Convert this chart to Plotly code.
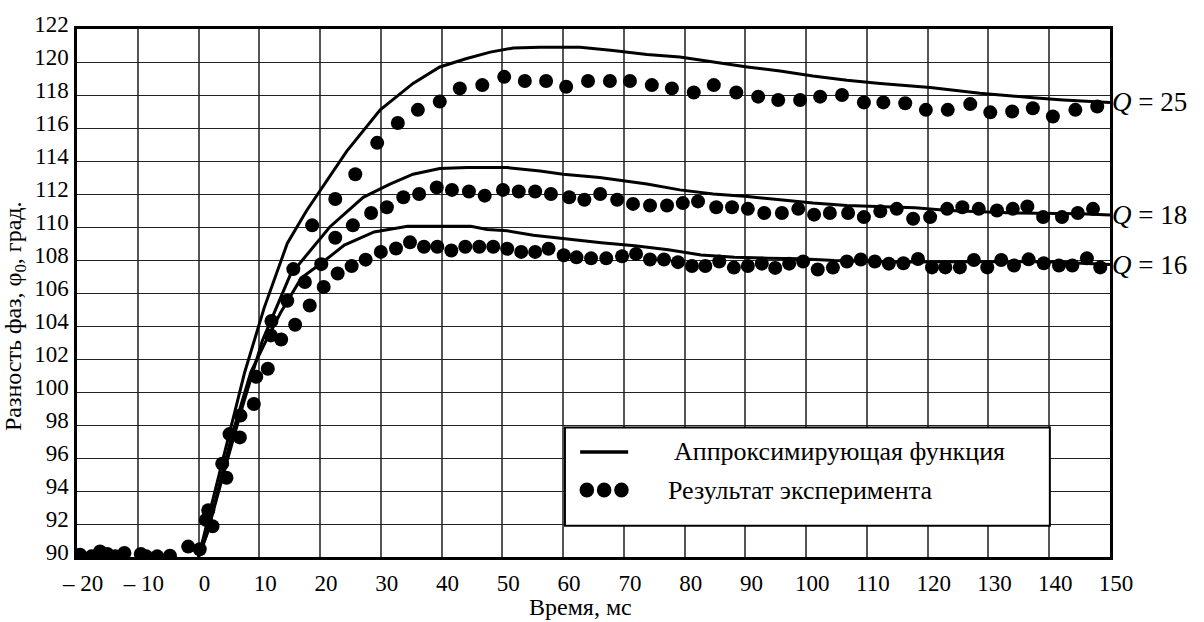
import plotly.graph_objects as go

# ---------------- data ----------------
x_tickvals = [-20, -10, 0, 10, 20, 30, 40, 50, 60, 70, 80, 90, 100, 110, 120, 130, 140, 150]
x_ticktext = ["– 20", "– 10", "0", "10", "20", "30", "40", "50", "60", "70", "80", "90",
              "100", "110", "120", "130", "140", "150"]
y_tickvals = list(range(90, 123, 2))

# approximating functions
fit25_x = [0, 2.5, 5.0, 7.6, 10.8, 14.6, 17.8, 24.4, 29.9, 35.3, 39.7, 44.0, 48.0, 51.8, 56.2, 62.8,
           68.2, 73.8, 79.2, 84.7, 90.3, 95.7, 101.1, 106.7, 112.2, 120.4, 128.6, 136.8, 142.3, 150]
fit25_y = [90.0, 93.7, 97.3, 101.2, 105.1, 109.0, 111.0, 114.6, 117.1, 118.7, 119.7, 120.2, 120.6, 120.85,
           120.9, 120.9, 120.7, 120.45, 120.3, 120.0, 119.7, 119.45, 119.15, 118.9, 118.7, 118.45, 118.1,
           117.85, 117.7, 117.55]

fit18_x = [0, 1.4, 4.3, 7.3, 10.5, 15.1, 21.6, 27.1, 31.5, 35.3, 39.7, 44.2, 50.8, 56.2, 60.0, 66.0,
           73.8, 79.2, 84.7, 90.3, 95.7, 101.1, 106.7, 112.2, 117.9, 123.4, 134.2, 145.1, 150]
fit18_y = [90.0, 91.4, 95.3, 99.2, 103.1, 107.1, 110.0, 111.8, 112.6, 113.2, 113.55, 113.6, 113.6, 113.4,
           113.2, 113.0, 112.6, 112.25, 112.0, 111.85, 111.65, 111.45, 111.3, 111.22, 111.17, 111.0,
           110.85, 110.8, 110.72]

fit16_x = [0, 1.4, 5.4, 8.6, 11.1, 13.5, 16.9, 20.2, 24.0, 28.9, 34.4, 44.8, 47.5, 50.8, 55.1, 60.6,
           66.3, 71.8, 77.3, 82.7, 88.2, 93.7, 99.1, 104.6, 110.1, 115.5, 128.8, 139.7, 150]
fit16_y = [90.0, 91.4, 97.25, 101.2, 103.1, 104.8, 106.9, 107.8, 108.9, 109.7, 110.04, 110.04, 109.85,
           109.77, 109.5, 109.26, 109.05, 108.86, 108.62, 108.31, 108.17, 108.11, 108.07, 107.97,
           107.91, 107.88, 107.9, 107.9, 107.72]

# experimental results
exp25_x = [-19.5, -15.0, -9.5, -4.7, 1.6, 5.1, 9.5, 12.0, 15.6, 18.7, 22.5, 25.8, 29.4, 32.8, 36.1,
           39.7, 43.0, 46.7, 50.3, 53.7, 57.2, 60.5, 64.1, 67.7, 71.0, 74.6, 77.9, 81.5, 84.8, 88.5,
           92.1, 95.4, 99.0, 102.3, 105.9, 109.5, 112.7, 116.3, 119.7, 123.3, 127.0, 130.3, 133.9,
           137.3, 140.6, 144.3, 147.9]
exp25_y = [90.14, 90.18, 90.18, 90.08, 92.84, 97.45, 100.92, 104.3, 107.45, 110.1, 111.7, 113.2, 115.1,
           116.3, 117.1, 117.6, 118.4, 118.6, 119.1, 118.85, 118.85, 118.5, 118.85, 118.85, 118.85,
           118.6, 118.4, 118.15, 118.6, 118.15, 117.9, 117.7, 117.7, 117.9, 118.0, 117.55, 117.55,
           117.5, 117.1, 117.1, 117.45, 116.95, 117.0, 117.2, 116.7, 117.1, 117.3]

exp18_x = [-17.6, -13.7, -8.6, -1.7, 1.2, 3.9, 6.9, 11.9, 14.6, 17.5, 20.2, 22.5, 25.4, 28.4, 31.0,
           33.7, 36.3, 39.2, 41.7, 44.5, 47.1, 50.1, 52.7, 55.4, 58.0, 61.0, 63.5, 66.1, 68.9, 71.5,
           74.3, 77.1, 79.7, 82.2, 85.2, 87.8, 90.4, 93.1, 96.0, 98.7, 101.3, 103.9, 106.9, 109.5,
           112.2, 114.9, 117.6, 120.4, 123.2, 125.7, 128.4, 131.4, 134.0, 136.4, 139.0, 142.1,
           144.7, 147.2]
exp18_y = [90.04, 90.04, 90.04, 90.63, 92.25, 95.65, 98.57, 103.43, 105.53, 106.67, 107.75, 109.35,
           110.1, 110.85, 111.2, 111.8, 112.0, 112.4, 112.25, 112.15, 111.9, 112.25, 112.15, 112.15,
           112.0, 111.8, 111.65, 112.0, 111.65, 111.4, 111.3, 111.3, 111.45, 111.55, 111.2, 111.2,
           111.1, 110.85, 110.85, 111.1, 110.75, 110.85, 110.85, 110.6, 110.95, 111.1, 110.5, 110.6,
           111.1, 111.2, 111.1, 111.0, 111.1, 111.25, 110.6, 110.6, 110.85, 111.1]

exp16_x = [-16.2, -12.2, -6.8, 0.2, 2.3, 4.6, 6.8, 9.1, 11.4, 13.6, 15.9, 18.3, 20.6, 22.9, 25.2,
           27.5, 30.0, 32.5, 34.8, 37.1, 39.3, 41.6, 43.9, 46.2, 48.5, 50.8, 53.1, 55.4, 57.6, 60.1,
           62.2, 64.6, 67.1, 69.7, 72.0, 74.3, 76.6, 78.9, 81.2, 83.4, 85.7, 88.1, 90.4, 92.7, 94.9,
           97.2, 99.5, 101.9, 104.4, 106.7, 109.0, 111.3, 113.6, 116.0, 118.4, 120.7, 122.9, 125.3,
           127.6, 129.8, 132.1, 134.2, 136.6, 139.1, 141.6, 143.8, 146.2, 148.4]
exp16_y = [90.33, 90.24, 90.04, 90.47, 91.86, 94.8, 97.25, 99.27, 101.41, 103.18, 104.08, 105.24,
           106.37, 107.18, 107.63, 108.02, 108.49, 108.7, 109.07, 108.8, 108.8, 108.58, 108.8, 108.8,
           108.8, 108.68, 108.49, 108.49, 108.68, 108.29, 108.16, 108.1, 108.1, 108.23, 108.37,
           108.03, 108.03, 107.87, 107.64, 107.64, 107.91, 107.54, 107.64, 107.78, 107.52, 107.78,
           107.91, 107.42, 107.54, 107.91, 108.03, 107.91, 107.78, 107.8, 108.06, 107.55, 107.55,
           107.55, 108.0, 107.55, 108.0, 107.67, 108.04, 107.8, 107.67, 107.67, 108.1, 107.55]

q_labels = ["<i>Q</i> = 25", "<i>Q</i> = 18", "<i>Q</i> = 16"]
q_label_y = [117.55, 110.75, 107.72]

legend_texts = ["Аппроксимирующая функция", "Результат эксперимента"]
legend_dot_x = [63.9, 66.75, 69.6]

FONT = "Liberation Serif"

fig = go.Figure()

for fx, fy in [(fit25_x, fit25_y), (fit18_x, fit18_y), (fit16_x, fit16_y)]:
    fig.add_trace(go.Scatter(x=fx, y=fy, mode="lines",
                             line=dict(color="black", width=3), showlegend=False,
                             hoverinfo="skip"))

for ex, ey in [(exp25_x, exp25_y), (exp18_x, exp18_y), (exp16_x, exp16_y)]:
    fig.add_trace(go.Scatter(x=ex, y=ey, mode="markers",
                             marker=dict(color="black", size=14, line=dict(width=0)),
                             showlegend=False, cliponaxis=True))

# legend box (drawn manually)
fig.add_shape(type="rect", x0=60.3, x1=140.1, y0=91.9, y1=97.85, xref="x", yref="y",
              line=dict(color="black", width=2), fillcolor="white", layer="above")
fig.add_shape(type="line", x0=62.8, x1=70.7, y0=96.37, y1=96.37, xref="x", yref="y",
              line=dict(color="black", width=3.5), layer="above")
for lx in legend_dot_x:
    fig.add_shape(type="circle", x0=lx - 1.2, x1=lx + 1.2, y0=94.06 - 0.45, y1=94.06 + 0.45,
                  xref="x", yref="y", line=dict(width=0), fillcolor="black", layer="above")

fig.add_annotation(x=77.9, y=96.37, text=legend_texts[0], showarrow=False, xanchor="left",
                   yanchor="middle", font=dict(family=FONT, size=26, color="black"))
fig.add_annotation(x=76.9, y=94.06, text=legend_texts[1], showarrow=False, xanchor="left",
                   yanchor="middle", font=dict(family=FONT, size=26, color="black"))

for lbl, ly in zip(q_labels, q_label_y):
    fig.add_annotation(x=1.0, xref="paper", y=ly, yref="y", text=lbl, showarrow=False,
                       xanchor="left", yanchor="middle", xshift=0,
                       font=dict(family=FONT, size=27, color="black"))

# axis titles
fig.add_annotation(x=62.8, y=0, yref="paper", yshift=-50, text="Время, мс", showarrow=False,
                   xanchor="center", yanchor="middle",
                   font=dict(family=FONT, size=24, color="black"))
fig.add_annotation(x=0, xref="paper", xshift=-62, y=104.6, yref="y",
                   text="Разность фаз, φ<sub>0</sub>, град.", textangle=-90, showarrow=False,
                   xanchor="center", yanchor="middle",
                   font=dict(family=FONT, size=24, color="black"))

fig.update_layout(
    width=1204, height=622,
    margin=dict(l=77, r=94, t=13, b=65),
    plot_bgcolor="white", paper_bgcolor="white",
    font=dict(family=FONT, size=23, color="black"),
    showlegend=False,
)
fig.update_xaxes(range=[-20, 150], tickvals=x_tickvals, ticktext=x_ticktext, ticks="",
                 showgrid=True, gridcolor="#555555", gridwidth=1.5,
                 showline=True, linecolor="black", linewidth=2.5, mirror=True,
                 zeroline=False, ticklabelshift=6, ticklabelstandoff=4,
                 ticklabeloverflow="allow",
                 tickfont=dict(family=FONT, size=23, color="black"))
fig.update_yaxes(range=[90, 122], tickvals=y_tickvals, ticks="",
                 showgrid=True, gridcolor="#222222", gridwidth=1.3,
                 showline=True, linecolor="black", linewidth=2.5, mirror=True,
                 zeroline=False, ticklabelshift=-5, ticklabelstandoff=1,
                 ticklabeloverflow="allow",
                 tickfont=dict(family=FONT, size=23, color="black"))

fig.write_html("out.html")
